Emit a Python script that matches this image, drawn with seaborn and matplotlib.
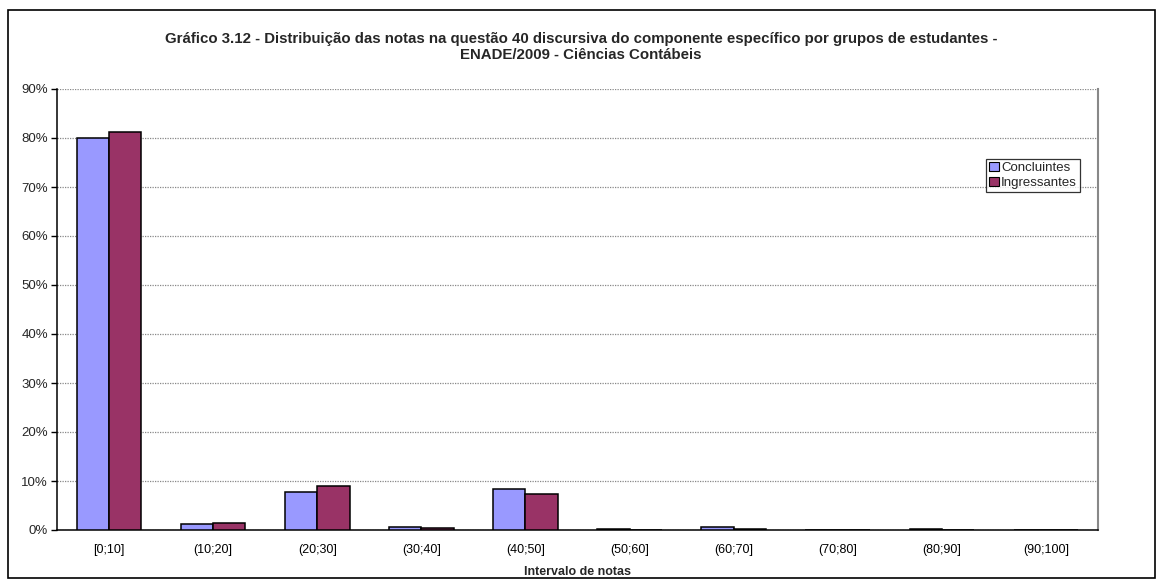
import matplotlib
matplotlib.use("Agg")
import matplotlib.pyplot as plt
import seaborn as sns
import pandas as pd
from matplotlib.patches import Rectangle
from matplotlib.ticker import FixedLocator, FuncFormatter

categories = ["[0;10]", "(10;20]", "(20;30]", "(30;40]", "(40;50]",
              "(50;60]", "(60;70]", "(70;80]", "(80;90]", "(90;100]"]
concluintes = [80.1, 1.3, 7.8, 0.6, 8.4, 0.3, 0.7, 0.05, 0.2, 0.05]
ingressantes = [81.2, 1.4, 8.9, 0.4, 7.4, 0.1, 0.2, 0.05, 0.05, 0.05]
series_names = ["Concluintes", "Ingressantes"]
colors = ["#9999FF", "#993366"]
y_ticks = [0, 10, 20, 30, 40, 50, 60, 70, 80, 90]

title = ("Gráfico 3.12 - Distribuição das notas na questão 40 discursiva do componente específico por grupos de estudantes -\n"
         "ENADE/2009 - Ciências Contábeis")
xlabel = "Intervalo de notas"

df = pd.DataFrame({
    "cat": categories * 2,
    "val": concluintes + ingressantes,
    "grp": [series_names[0]] * len(categories) + [series_names[1]] * len(categories),
})

sns.set_style("white")
plt.rcParams["font.family"] = ["Liberation Sans", "DejaVu Sans"]

W, H = 1163, 583
L, R, T, B = 57, 1098, 89, 530
fig = plt.figure(figsize=(W / 100, H / 100), dpi=100)
ax = fig.add_axes([L / W, 1 - B / H, (R - L) / W, (B - T) / H])

sns.barplot(data=df, x="cat", y="val", hue="grp", order=categories,
            hue_order=series_names, palette=colors, width=0.62, gap=0,
            edgecolor="black", linewidth=1.1, saturation=1, ax=ax, legend=True,
            zorder=3)

ax.set_xlim(-0.5, len(categories) - 0.5)
ax.set_ylim(0, 90)
ax.yaxis.set_major_locator(FixedLocator(y_ticks))
ax.yaxis.set_major_formatter(FuncFormatter(lambda v, p: f"{int(v)}%"))
ax.grid(axis="y", color="#888888", linestyle=(0, (1, 1)), linewidth=0.9, zorder=0)
ax.grid(axis="x", visible=False)
ax.set_axisbelow(True)

ax.xaxis.set_minor_locator(FixedLocator([i - 0.5 for i in range(len(categories) + 1)]))
ax.tick_params(axis="x", which="major", length=0, pad=10, labelsize=9, colors="black")
ax.tick_params(axis="x", which="minor", length=5, width=1, color="black", direction="out")
ax.tick_params(axis="y", which="major", length=4, width=1, color="black",
               direction="out", pad=2.5, labelsize=9.5, left=True)

for s in ["left", "bottom"]:
    ax.spines[s].set_visible(True)
    ax.spines[s].set_color("black")
    ax.spines[s].set_linewidth(1.1)
ax.spines["right"].set_visible(True)
ax.spines["right"].set_color("#888888")
ax.spines["right"].set_linewidth(1.5)
ax.spines["top"].set_visible(False)

ax.set_ylabel("")
ax.set_xlabel(xlabel, fontsize=9, fontweight="bold", labelpad=7)

leg = ax.legend(loc="upper left", bbox_to_anchor=(986 / W, 1 - 159 / H),
                bbox_transform=fig.transFigure, fontsize=9.5, frameon=True,
                fancybox=False, edgecolor="black", handlelength=0.75,
                handleheight=0.75, handletextpad=0.2, borderpad=0.2,
                labelspacing=0.2, borderaxespad=0)
leg.get_frame().set_linewidth(0.9)
for h in leg.legend_handles:
    h.set_edgecolor("black")
    h.set_linewidth(0.8)

fig.text(581 / W, 1 - 47 / H, title, ha="center", va="center", fontsize=10.8,
         fontweight="bold", linespacing=1.12)

frame = Rectangle((8 / W, 1 - 578 / H), (1155 - 8) / W, (578 - 10) / H,
                  transform=fig.transFigure, fill=False, edgecolor="black",
                  linewidth=1.2)
fig.patches.append(frame)

fig.savefig("out.png", dpi=100)
